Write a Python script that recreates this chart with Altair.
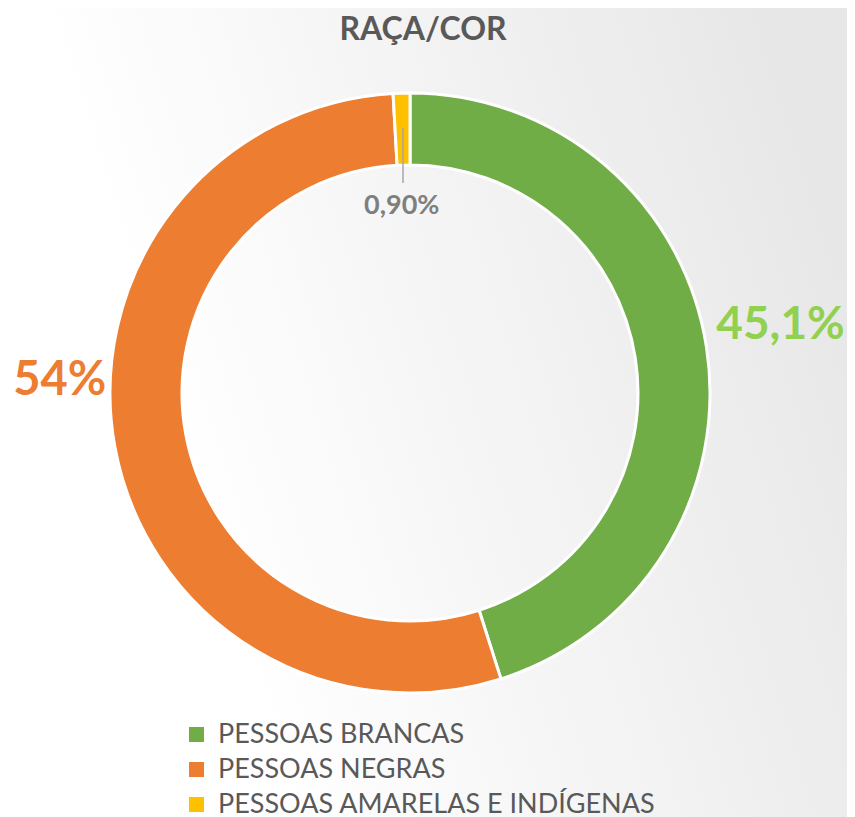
import altair as alt
import pandas as pd

categories = ["PESSOAS BRANCAS", "PESSOAS NEGRAS", "PESSOAS AMARELAS E INDÍGENAS"]
values = [45.1, 54.0, 0.9]
labels = ["45,1%", "54%", "0,90%"]
colors = ["#70ad47", "#ed7d31", "#ffc000"]
label_colors = ["#92d050", "#ed7d31", "#7f7f7f"]
order = [1, 2, 3]
title_text = "RAÇA/COR"

df = pd.DataFrame({"cat": categories, "value": values, "label": labels, "ord": order})
one = pd.DataFrame({"t": [title_text]})

W, H = 839, 809
CX, CY = 402, 385
theta_scale = alt.Scale(domain=[0, 100])

bg = alt.Chart(one).mark_rect(
    color=alt.LinearGradient(
        gradient="linear",
        stops=[alt.GradientStop(color="#ffffff", offset=0),
               alt.GradientStop(color="#ffffff", offset=0.2),
               alt.GradientStop(color="#e7e7e7", offset=1)],
        x1=0, y1=0.6, x2=1, y2=0.3,
    )
).encode(x=alt.value(0), x2=alt.value(W), y=alt.value(0), y2=alt.value(H))

arc = alt.Chart(df).mark_arc(
    outerRadius=300, innerRadius=228, stroke="white", strokeWidth=3
).encode(
    theta=alt.Theta("value:Q", stack=True, scale=theta_scale),
    order=alt.Order("ord:Q"),
    color=alt.Color(
        "cat:N",
        scale=alt.Scale(domain=categories, range=colors),
        legend=alt.Legend(
            title=None, orient="none", legendX=175, legendY=713,
            symbolType="square", symbolSize=225, symbolStrokeWidth=0,
            labelFont="Lato", labelFontSize=27, labelColor="#595959",
            labelLimit=800, rowPadding=7, labelOffset=8, padding=0,
            direction="vertical",
        ),
    ),
    x=alt.value(CX), y=alt.value(CY),
)

lab = alt.Chart(df).transform_window(
    cum="sum(value)", sort=[alt.SortField("ord")], frame=[None, 0]
).transform_calculate(mid="datum.cum - datum.value / 2")

label_cfg = [
    dict(radius=380, dx=-5, dy=-10, fontSize=46),
    dict(radius=350, dx=-6, dy=-75, fontSize=47),
    dict(radius=187, dx=-3, dy=0, fontSize=27),
]

text_layers = []
for i, cfg in enumerate(label_cfg):
    text_layers.append(
        lab.transform_filter(alt.datum.ord == order[i]).mark_text(
            radius=cfg["radius"], dx=cfg["dx"], dy=cfg["dy"],
            font="Lato", fontWeight="bold", fontSize=cfg["fontSize"],
            color=label_colors[i], align="center", baseline="middle",
        ).encode(
            theta=alt.Theta("mid:Q", stack=None, scale=theta_scale),
            text="label:N",
            x=alt.value(CX), y=alt.value(CY),
        )
    )

leader = alt.Chart(one).mark_rule(color="#a6a6a6", strokeWidth=1.5).encode(
    x=alt.value(395), y=alt.value(120), y2=alt.value(175)
)

title = alt.Chart(one).mark_text(
    font="Lato", fontWeight="bold", fontSize=32, color="#595959",
    align="center", baseline="middle",
).encode(text="t:N", x=alt.value(415), y=alt.value(22))

chart = alt.layer(bg, arc, leader, *text_layers, title).properties(
    width=W, height=H, padding=0,
    autosize=alt.AutoSizeParams(type="none"),
).configure_view(stroke=None)

chart.save("out.html", embed_options={"renderer": "svg", "actions": False})
